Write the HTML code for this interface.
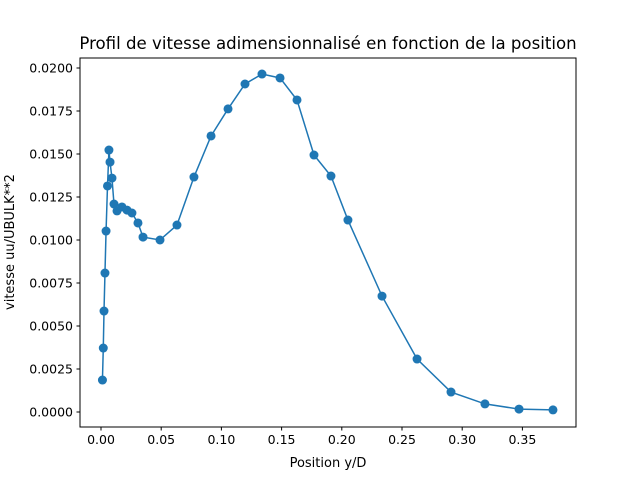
<!DOCTYPE html>
<html><head><meta charset="utf-8"><style>
body{margin:0;background:#fff;}
svg{display:block;font-family:"DejaVu Sans","Liberation Sans",sans-serif;}
</style></head><body>
<svg id="chart" width="640" height="480">
<rect x="0" y="0" width="640" height="480" fill="#fff"/>
<text x="328" y="49" font-size="16.6" text-anchor="middle">Profil de vitesse adimensionnalisé en fonction de la position</text>
<text x="328" y="467" font-size="13" text-anchor="middle">Position y/D</text>
<text transform="translate(14,242) rotate(-90)" font-size="13" text-anchor="middle">vitesse uu/UBULK**2</text>
<g id="ticks"></g>
<g id="series"></g>
<rect x="80" y="58" width="496" height="369" fill="none" stroke="#000" stroke-width="1"/>
</svg>
<script>
const xValues=[0.0012,0.0019,0.0025,0.0033,0.0042,0.0054,0.0066,0.0075,0.0091,0.0108,0.0133,0.0174,0.0216,0.0257,0.0307,0.0349,0.0490,0.0631,0.0772,0.0914,0.1055,0.1196,0.1337,0.1487,0.1628,0.1769,0.1910,0.2051,0.2334,0.2625,0.2907,0.3189,0.3472,0.3754];
const yValues=[0.00186,0.00372,0.00587,0.00808,0.01052,0.01314,0.01523,0.01453,0.0136,0.01209,0.01169,0.01192,0.01174,0.01157,0.01099,0.01017,0.0100,0.01087,0.01366,0.01605,0.01762,0.01907,0.01965,0.01942,0.01814,0.01494,0.01372,0.01116,0.00674,0.00308,0.00116,0.00047,0.00017,0.00012];
const xTicks=[0,0.05,0.10,0.15,0.20,0.25,0.30,0.35];
const xTickLabels=["0.00","0.05","0.10","0.15","0.20","0.25","0.30","0.35"];
const yTicks=[0,0.0025,0.005,0.0075,0.01,0.0125,0.015,0.0175,0.02];
const yTickLabels=["0.0000","0.0025","0.0050","0.0075","0.0100","0.0125","0.0150","0.0175","0.0200"];
const xs=v=>101+v*1204;
const ys=v=>412-v*17200;
const NS="http://www.w3.org/2000/svg";
const tg=document.getElementById('ticks'), sg=document.getElementById('series');
function mk(tag,at,parent){const e=document.createElementNS(NS,tag);for(const k in at)e.setAttribute(k,at[k]);parent.appendChild(e);return e;}
xTicks.forEach((t,i)=>{const x=xs(t);
 const l=mk('line',{x1:x,x2:x,y1:427,y2:430.5,stroke:'#000'},tg);
 
 
 const tx=mk('text',{x:x,y:444,'font-size':'12.5','text-anchor':'middle'},tg);tx.textContent=xTickLabels[i];
 
 });
yTicks.forEach((t,i)=>{const y=ys(t);
 const l=mk('line',{x1:76.5,x2:80,y1:y,y2:y,stroke:'#000'},tg);
 
 
 const tx=mk('text',{x:73,y:y+4.5,'font-size':'12.5','text-anchor':'end'},tg);tx.textContent=yTickLabels[i];
 
 });
const pts=xValues.map((v,i)=>xs(v)+','+ys(yValues[i])).join(' ');
const pl=mk('polyline',{points:pts,fill:'none',stroke:'#1f77b4','stroke-width':'1.5'},sg);


xValues.forEach((v,i)=>{const c=mk('circle',{cx:xs(v),cy:ys(yValues[i]),r:4.5,fill:'#1f77b4'},sg);
 
 });
</script>
</body></html>
